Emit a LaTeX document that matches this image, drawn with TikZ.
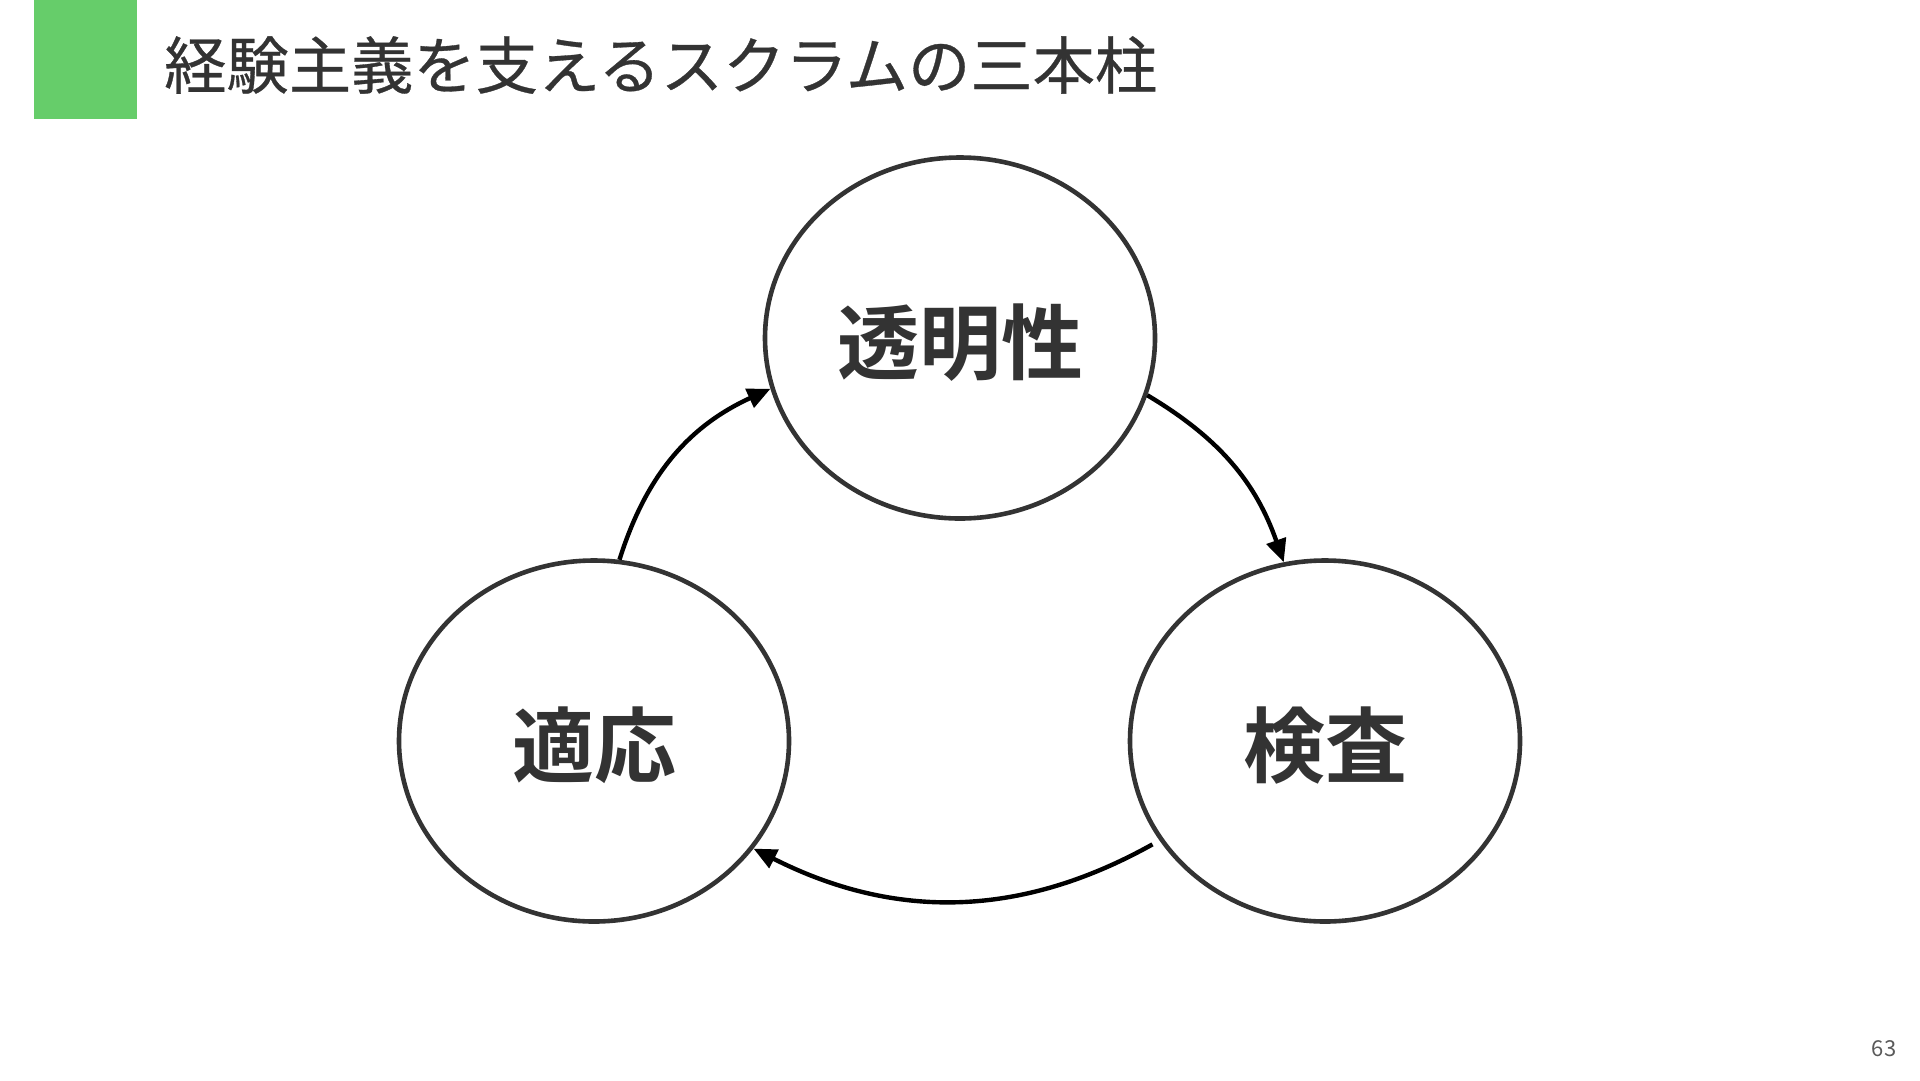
\documentclass[tikz,border=0pt]{standalone}
\usepackage{fontspec}
\setmainfont{Noto Sans CJK JP}
\newfontfamily\jpbold{Noto Sans CJK JP Bold}
\newfontfamily\jptitle[FakeBold=0.5]{Noto Sans CJK JP}
\usetikzlibrary{arrows.meta,shapes.geometric}
\definecolor{barGreen}{HTML}{66CD6A}
\definecolor{ink}{HTML}{333333}
\definecolor{pagegray}{HTML}{5A5A5A}
\tikzset{
  pillar/.style={ellipse, draw=ink, line width=4.6pt, minimum width=390pt, minimum height=361pt, inner sep=0pt, text=ink, text height=81pt, text depth=10pt, font=\jpbold\fontsize{82}{82}\selectfont},
  cyc/.style={line width=4.4pt, draw=black, -{Triangle[length=23pt,width=20pt]}},
}
\begin{document}
\begin{tikzpicture}[x=1pt,y=-1pt]
\useasboundingbox (0,0) rectangle (1920,1080);
\fill[white] (0,0) rectangle (1920,1080);
\fill[barGreen] (34,0) rectangle (137,119);
\node[anchor=west, text=ink, font=\jptitle\fontsize{62.3}{62.3}\selectfont, inner sep=0pt] (title) at (164,65) {経験主義を支えるスクラムの三本柱};
\node[pillar] (top) at (960,338) {透明性};
\node[pillar] (left) at (594,741) {適応};
\node[pillar] (right) at (1325,741) {検査};
\draw[cyc] (top.-17.5) to[bend left=20] (right.103);
\draw[cyc, shorten <=8pt] (right.211) to[bend left=28] (left.-34);
\draw[cyc] (left.82) to[bend left=24] (top.195.5);
\node[text=pagegray, font=\fontsize{22}{22}\selectfont, inner sep=0pt] (pnum) at (1884,1049) {63};
\end{tikzpicture}
\end{document}
